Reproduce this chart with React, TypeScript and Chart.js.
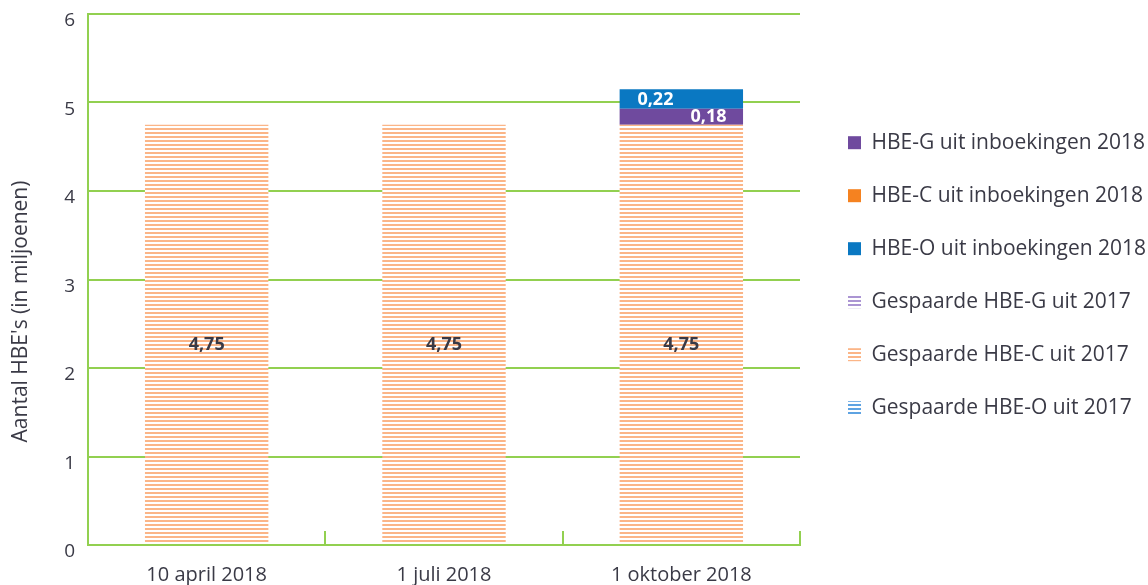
import React, { useEffect, useRef } from "react";
import { Chart, registerables } from "chart.js";

Chart.register(...registerables);

// ---- data ----
const categories = ["10 april 2018", "1 juli 2018", "1 oktober 2018"];
const inboekingenG = [0, 0, 0.18];
const inboekingenC = [0, 0, 0];
const inboekingenO = [0, 0, 0.22];
const gespaardeG = [0, 0, 0];
const gespaardeC = [4.75, 4.75, 4.75];
const gespaardeO = [0, 0, 0];
const yMin = 0;
const yMax = 6;
const yStep = 1;
const yTitle = "Aantal HBE's (in miljoenen)";

// ---- styles ----
const GREEN = "#92d050";
const TEXT = "#3a3a46";
const FONT = "'Open Sans', 'Noto Sans', sans-serif";

function stripes(color: string) {
  const c = document.createElement("canvas");
  c.width = 4;
  c.height = 4;
  const x = c.getContext("2d")!;
  x.fillStyle = "#ffffff";
  x.fillRect(0, 0, 4, 4);
  x.fillStyle = color;
  x.fillRect(0, 0, 4, 2);
  return x.createPattern(c, "repeat")!;
}

const fmt = (v: number) => v.toFixed(2).replace(".", ",");

const valueLabels = {
  id: "valueLabels",
  afterDatasetsDraw(chart: any) {
    const ctx = chart.ctx;
    chart.data.datasets.forEach((ds: any, di: number) => {
      const meta = chart.getDatasetMeta(di);
      if (meta.hidden) return;
      meta.data.forEach((bar: any, i: number) => {
        const v = ds.data[i];
        if (!v) return;
        const { x, y, base, width } = bar.getProps(["x", "y", "base", "width"], true);
        ctx.save();
        ctx.font = `bold 18px ${FONT}`;
        ctx.fillStyle = ds.labelColor;
        ctx.textAlign = "center";
        ctx.textBaseline = "middle";
        ctx.fillText(fmt(v), x + ds.labelShift * width, (y + base) / 2 + ds.labelDy);
        ctx.restore();
      });
    });
  },
};

const axisTitle = {
  id: "axisTitle",
  afterDraw(chart: any) {
    const ctx = chart.ctx;
    const a = chart.chartArea;
    ctx.save();
    ctx.translate(21, (a.top + a.bottom) / 2 + 32);
    ctx.rotate(-Math.PI / 2);
    ctx.font = `21px ${FONT}`;
    ctx.fillStyle = TEXT;
    ctx.textAlign = "center";
    ctx.textBaseline = "middle";
    ctx.fillText(yTitle, 0, 0);
    ctx.restore();
  },
};

// legend order by dataset index
const legendRank = [4, 3, 5, 0, 1, 2];

export default function App() {
  const ref = useRef<HTMLCanvasElement>(null);
  useEffect(() => {
    const purple = "#6f4a9e";
    const orange = "#f58220";
    const blue = "#0a78c2";
    const datasets: any[] = [
      { label: "Gespaarde HBE-C uit 2017", data: gespaardeC, backgroundColor: stripes("#fbb587"), labelColor: TEXT, labelShift: 0, labelDy: 11 },
      { label: "Gespaarde HBE-G uit 2017", data: gespaardeG, backgroundColor: stripes("#ab95d3"), labelColor: TEXT, labelShift: 0, labelDy: 0 },
      { label: "Gespaarde HBE-O uit 2017", data: gespaardeO, backgroundColor: stripes("#5ea3e2"), labelColor: TEXT, labelShift: 0, labelDy: 0 },
      { label: "HBE-G uit inboekingen 2018", data: inboekingenG, backgroundColor: purple, labelColor: "#ffffff", labelShift: 0.22, labelDy: 0 },
      { label: "HBE-C uit inboekingen 2018", data: inboekingenC, backgroundColor: orange, labelColor: "#ffffff", labelShift: 0, labelDy: 0 },
      { label: "HBE-O uit inboekingen 2018", data: inboekingenO, backgroundColor: blue, labelColor: "#ffffff", labelShift: -0.21, labelDy: 1 },
    ];
    const chart = new Chart(ref.current!, {
      type: "bar",
      data: { labels: categories, datasets },
      plugins: [valueLabels, axisTitle],
      options: {
        animation: false,
        responsive: false,
        maintainAspectRatio: false,
        layout: { padding: { top: 14, right: 0, bottom: 0, left: 0 } },
        datasets: { bar: { categoryPercentage: 1, barPercentage: 0.52, borderWidth: 0 } },
        plugins: {
          tooltip: { enabled: false },
          legend: {
            position: "right",
            align: "start",
            maxWidth: 332,
            title: { display: true, text: "", font: { size: 1 }, padding: { top: 44, bottom: 41 } },
            labels: {
              font: { family: FONT, size: 21 },
              color: TEXT,
              boxWidth: 13,
              boxHeight: 13,
              padding: 32,
              sort: (a: any, b: any) => legendRank[a.datasetIndex] - legendRank[b.datasetIndex],
            },
          },
        },
        scales: {
          x: {
            stacked: true,
            offset: true,
            grid: { display: true, drawOnChartArea: false, drawTicks: true, tickLength: -14, color: GREEN, lineWidth: 2 },
            border: { display: true, color: GREEN, width: 2 },
            ticks: { color: TEXT, font: { family: FONT, size: 20 }, padding: 32 },
            afterFit: (s: any) => {
              s.height = 40;
              s.paddingLeft = 0;
              s.paddingRight = 0;
            },
          },
          y: {
            stacked: true,
            min: yMin,
            max: yMax,
            grid: { color: GREEN, lineWidth: 2, drawTicks: false },
            border: { display: true, color: GREEN, width: 2 },
            ticks: { stepSize: yStep, color: TEXT, font: { family: FONT, size: 19 }, padding: 13, labelOffset: 7 },
            afterFit: (s: any) => {
              s.width = 88;
              s.paddingTop = 0;
              s.paddingBottom = 0;
            },
          },
          y2: {
            position: "right",
            display: true,
            grid: { display: false },
            border: { display: false },
            ticks: { display: false },
            afterFit: (s: any) => {
              s.width = 16;
              s.paddingTop = 0;
              s.paddingBottom = 0;
            },
          },
        },
      },
    });
    return () => chart.destroy();
  }, []);
  return (
    <div style={{ position: "absolute", left: 0, top: 0, width: 1148, height: 585 }}>
      <canvas ref={ref} width={1148} height={585} />
    </div>
  );
}
